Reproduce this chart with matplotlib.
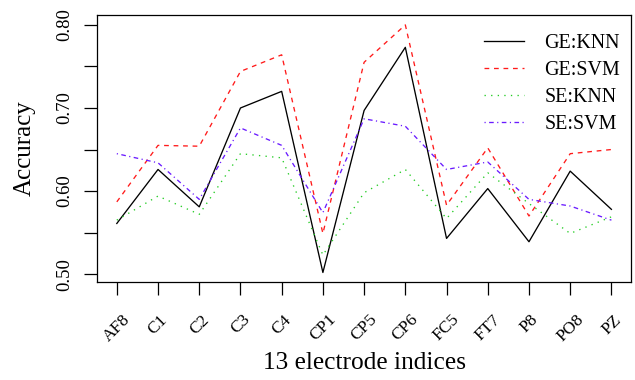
import matplotlib
matplotlib.use("Agg")
import matplotlib.pyplot as plt
import matplotlib.transforms as mtransforms
import numpy as np

electrodes = ["AF8", "C1", "C2", "C3", "C4", "CP1", "CP5", "CP6",
              "FC5", "FT7", "P8", "PO8", "PZ"]

ge_knn = [0.561, 0.626, 0.581, 0.700, 0.720, 0.502, 0.697,
          0.773, 0.543, 0.603, 0.539, 0.624, 0.578]
ge_svm = [0.587, 0.655, 0.654, 0.744, 0.764, 0.549, 0.755,
          0.800, 0.583, 0.652, 0.570, 0.645, 0.650]
se_knn = [0.565, 0.594, 0.572, 0.645, 0.640, 0.523, 0.598,
          0.626, 0.567, 0.622, 0.585, 0.549, 0.569]
se_svm = [0.645, 0.634, 0.590, 0.676, 0.655, 0.574, 0.687,
          0.678, 0.626, 0.635, 0.590, 0.582, 0.565]

plt.rcParams["font.family"] = ["Liberation Serif", "DejaVu Serif"]

fig = plt.figure(figsize=(6.35, 3.8), dpi=100)
ax = fig.add_axes([0.1528, 0.258, 0.8412, 0.7025])

x = np.arange(len(electrodes))
lw = 0.95
ax.plot(x, ge_knn, color="black", lw=lw, label="GE:KNN")
ax.plot(x, ge_svm, color="#ff1a1a", lw=lw, dashes=(3.6, 3.6), label="GE:SVM")
ax.plot(x, se_knn, color="#22cc22", lw=lw, dashes=(1.0, 4.0), label="SE:KNN")
ax.plot(x, se_svm, color="#6a1bff", lw=lw, dashes=(0.9, 2.6, 3.5, 2.6),
        label="SE:SVM")

ax.set_xlim(-0.48, 12.48)
ax.set_ylim(0.4906, 0.8119)
ax.set_xticks(x)
ax.set_xticklabels(electrodes, rotation=45, ha="center", va="top", fontsize=12.5)
# nudge rotated labels a bit to the right, like the original
shift = mtransforms.ScaledTranslation(4 / 100, 0, fig.dpi_scale_trans)
for lab in ax.get_xticklabels():
    lab.set_transform(lab.get_transform() + shift)
ax.set_yticks([0.50, 0.55, 0.60, 0.65, 0.70, 0.75, 0.80])
ax.set_yticklabels(["0.50", "", "0.60", "", "0.70", "", "0.80"],
                   rotation=90, va="center", fontsize=13.5)
ax.tick_params(direction="out", length=9.4, width=0.9)
ax.tick_params(axis="x", pad=12)
ax.tick_params(axis="y", pad=8)
for s in ax.spines.values():
    s.set_linewidth(0.9)

ax.set_xlabel("13 electrode indices", fontsize=18.3)
ax.xaxis.set_label_coords(0.5, -0.262)
ax.set_ylabel("Accuracy", fontsize=18)
ax.yaxis.set_label_coords(-0.115, 0.5)

ax.legend(loc="upper right", bbox_to_anchor=(0.979, 0.927), frameon=False,
          fontsize=14.4, handlelength=2.0, handletextpad=1.0,
          labelspacing=0.4, borderaxespad=0, borderpad=0)

fig.savefig("out.png", dpi=100)
